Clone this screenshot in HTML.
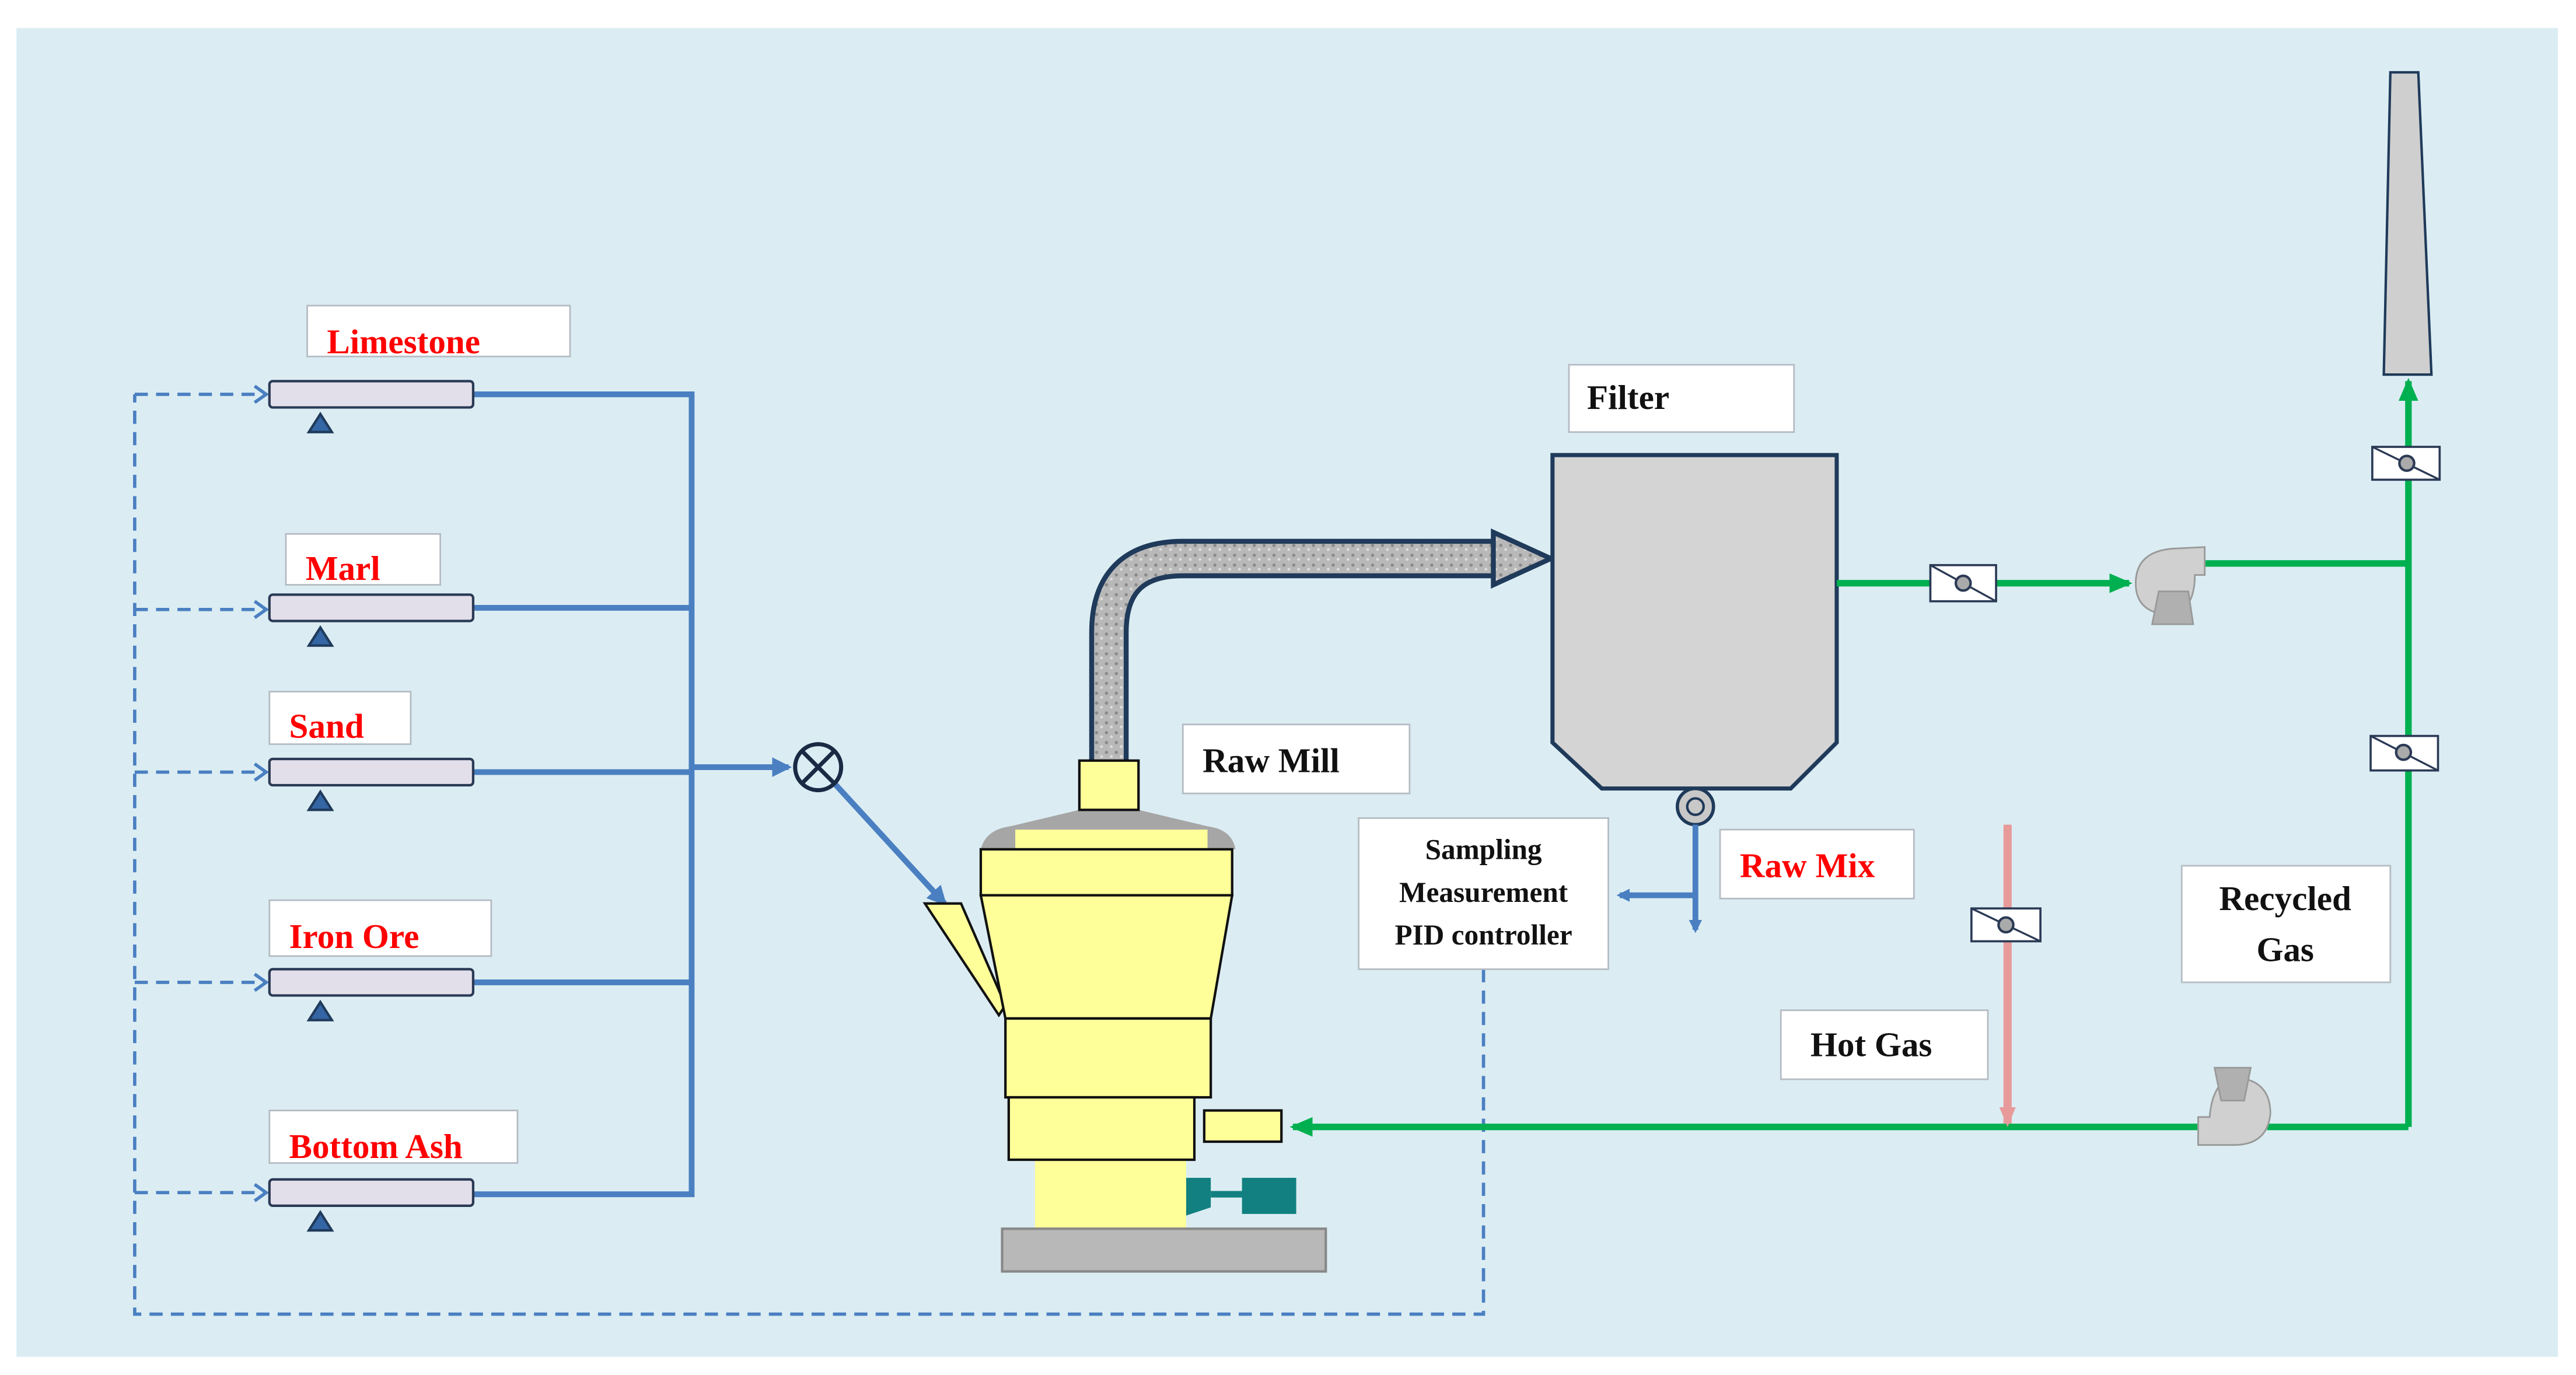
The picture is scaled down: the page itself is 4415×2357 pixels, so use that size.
<!DOCTYPE html>
<html><head><meta charset="utf-8"><style>
html,body{margin:0;padding:0;background:#fff}
svg{display:block}
text{font-family:"Liberation Serif",serif;font-weight:bold}
</style></head><body>
<svg width="4415" height="2357" viewBox="0 0 1568 837" xmlns="http://www.w3.org/2000/svg">
<defs>
<marker id="ab" markerWidth="8" markerHeight="8" refX="6" refY="4" orient="auto" markerUnits="userSpaceOnUse"><path d="M0,0 L8,4 L0,8 Z" fill="#4a7fc1"/></marker>
<marker id="abl" markerWidth="12" markerHeight="12" refX="10" refY="6" orient="auto" markerUnits="userSpaceOnUse"><path d="M0,0 L12,6 L0,12 Z" fill="#4a7fc1"/></marker>
<marker id="ad" markerWidth="10" markerHeight="12" refX="8" refY="6" orient="auto" markerUnits="userSpaceOnUse"><path d="M1,1 L8,6 L1,11" fill="none" stroke="#4a7fc1" stroke-width="2"/></marker>
<marker id="ag" markerWidth="14" markerHeight="12" refX="12" refY="6" orient="auto" markerUnits="userSpaceOnUse"><path d="M0,0 L14,6 L0,12 Z" fill="#00b050"/></marker>
<marker id="ap" markerWidth="12" markerHeight="10" refX="10" refY="5" orient="auto" markerUnits="userSpaceOnUse"><path d="M0,0 L12,5 L0,10 Z" fill="#e89a9a"/></marker>
<pattern id="spk" width="6" height="6" patternUnits="userSpaceOnUse"><rect width="6" height="6" fill="#b8b8b8"/><circle cx="1.5" cy="2" r="1" fill="#8a8a8a"/><circle cx="4.5" cy="4.5" r="0.9" fill="#dcdcdc"/></pattern>
</defs>
<rect x="10" y="17" width="1547" height="809" fill="#dbedf3"/>

<g stroke="#4a7fc1" stroke-width="2" stroke-dasharray="8,5" fill="none">
<path d="M903,590 V800 H82 V240"/>
<path d="M82,240 H162" marker-end="url(#ad)"/>
<path d="M82,371 H162" marker-end="url(#ad)"/>
<path d="M82,470 H162" marker-end="url(#ad)"/>
<path d="M82,598 H162" marker-end="url(#ad)"/>
<path d="M82,726 H162" marker-end="url(#ad)"/>
</g>

<g stroke="#4a7fc1" stroke-width="3.5" fill="none">
<path d="M288,240 H421 V727 H288"/>
<path d="M288,370 H421"/><path d="M288,470 H421"/><path d="M288,598 H421"/>
<path d="M421,467 H480" marker-end="url(#abl)"/>
<path d="M508,477 L575,550" marker-end="url(#abl)"/>
</g>
<g fill="#e2dfea" stroke="#2b3a55" stroke-width="1.5">
<rect x="164" y="232" width="124" height="16" rx="2"/>
<rect x="164" y="362" width="124" height="16" rx="2"/>
<rect x="164" y="462" width="124" height="16" rx="2"/>
<rect x="164" y="590" width="124" height="16" rx="2"/>
<rect x="164" y="718" width="124" height="16" rx="2"/>
</g>
<g fill="#3465a4" stroke="#1f3a5a" stroke-width="1.5">
<path d="M195,252 L202,263 L188,263Z"/><path d="M195,382 L202,393 L188,393Z"/>
<path d="M195,482 L202,493 L188,493Z"/><path d="M195,610 L202,621 L188,621Z"/>
<path d="M195,738 L202,749 L188,749Z"/>
</g>
<circle cx="498" cy="467" r="14" fill="#dbedf3" stroke="#1a2a44" stroke-width="2.5"/>
<path d="M488,457 L508,477 M508,457 L488,477" stroke="#1a2a44" stroke-width="2.5"/>

<g fill="#fff" stroke="#b5bcc4" stroke-width="1">
<rect x="187" y="186" width="160" height="31"/>
<rect x="174" y="325" width="94" height="31"/>
<rect x="164" y="421" width="86" height="32"/>
<rect x="164" y="548" width="135" height="34"/>
<rect x="164" y="676" width="151" height="32"/>
<rect x="955" y="222" width="137" height="41"/>
<rect x="720" y="441" width="138" height="42"/>
<rect x="827" y="498" width="152" height="92"/>
<rect x="1047" y="505" width="118" height="42"/>
<rect x="1084" y="615" width="126" height="42"/>
<rect x="1328" y="527" width="127" height="71"/>
</g>
<g font-size="21" fill="#f00">
<text x="199" y="215">Limestone</text>
<text x="186" y="353">Marl</text>
<text x="176" y="449">Sand</text>
<text x="176" y="577">Iron Ore</text>
<text x="176" y="705">Bottom Ash</text>
<text x="1059" y="534">Raw Mix</text>
</g>
<g font-size="21" fill="#111">
<text x="966" y="249">Filter</text>
<text x="732" y="470">Raw Mill</text>
<text x="1102" y="643">Hot  Gas</text>
<text x="1391" y="554" text-anchor="middle">Recycled</text>
<text x="1391" y="585" text-anchor="middle">Gas</text>
</g>
<g font-size="17.5" fill="#111" text-anchor="middle">
<text x="903" y="523">Sampling</text>
<text x="903" y="549">Measurement</text>
<text x="903" y="575">PID controller</text>
</g>

<path d="M675,465 V385 Q675,340 720,340 H912" fill="none" stroke="#1f3a5a" stroke-width="24"/>
<path d="M675,465 V385 Q675,340 720,340 H915" fill="none" stroke="url(#spk)" stroke-width="18"/>
<path d="M909,324 L944,340 L909,356 Z" fill="url(#spk)" stroke="#1f3a5a" stroke-width="3"/>

<g stroke="#111" stroke-width="1.5">
<path d="M563,550 L585,550 L612,612 L608,618 Z" fill="#ffff99"/>
<rect x="630" y="706" width="92" height="42" fill="#ffff99" stroke="none"/>
<rect x="610" y="748" width="197" height="26" fill="#b8b8b8" stroke="#888"/>
<path d="M597,517 Q600,505 615,503 L657,493 L693,493 L735,503 Q750,505 752,517 Z" fill="#a6a6a6" stroke="none"/>
<rect x="618" y="505" width="117" height="12" fill="#ffff99" stroke="none"/>
<rect x="657" y="463" width="36" height="30" fill="#ffff99"/>
<rect x="597" y="517" width="153" height="28" fill="#ffff99"/>
<path d="M597,545 L750,545 L737,620 L612,620 Z" fill="#ffff99"/>
<rect x="612" y="620" width="125" height="48" fill="#ffff99"/>
<rect x="614" y="668" width="113" height="38" fill="#ffff99"/>
<rect x="733" y="676" width="47" height="19" fill="#ffff99"/>
</g>
<g fill="#128080">
<path d="M722,717 L737,717 L737,735 L722,740 Z"/><rect x="737" y="725" width="20" height="4"/><rect x="756" y="717" width="33" height="22"/>
</g>

<path d="M945,277 H1118 V452 L1090,480 H975 L945,452 Z" fill="#d4d4d4" stroke="#1f3a5a" stroke-width="2.5"/>
<circle cx="1032" cy="491" r="11" fill="#c8c8c8" stroke="#1f3a5a" stroke-width="2"/>
<circle cx="1032" cy="491" r="5" fill="none" stroke="#1f3a5a" stroke-width="1.5"/>
<g stroke="#4a7fc1" stroke-width="3.5" fill="none">
<path d="M1032,502 V566" marker-end="url(#ab)"/>
<path d="M1032,545 H986" marker-end="url(#ab)"/>
</g>

<g stroke="#00b050" stroke-width="4" fill="none">
<path d="M1118,355 H1296" marker-end="url(#ag)"/>
<path d="M1342,343 H1466"/>
<path d="M1466,686 V232" marker-end="url(#ag)"/>
<path d="M1466,686 H1380"/>
<path d="M1338,686 H787" marker-end="url(#ag)"/>
</g>
<path d="M1222,502 V684" stroke="#e89a9a" stroke-width="5" marker-end="url(#ap)"/>
<path d="M1455,44 H1472 L1480,228 H1451 Z" fill="#cfcfcf" stroke="#1f3a5a" stroke-width="1.5"/>

<g fill="#d0d0d0" stroke="#999" stroke-width="1">
<path d="M1342,333 V350 H1336 Q1336,374 1318,374 Q1300,372 1300,355 Q1300,336 1322,334 Z"/>
<path d="M1314,360 H1332 L1335,380 H1310 Z" fill="#b0b0b0"/>
<path d="M1338,697 V680 H1345 Q1347,656 1362,656 Q1382,658 1382,678 Q1380,697 1360,697 Z"/>
<path d="M1348,650 H1370 L1366,670 H1352 Z" fill="#b0b0b0"/>
</g>

<g fill="#fff" stroke="#2b3a55" stroke-width="1.3">
<rect x="1175" y="344" width="40" height="22"/>
<rect x="1444" y="272" width="41" height="20"/>
<rect x="1443" y="448" width="41" height="21"/>
<rect x="1200" y="553" width="42" height="20"/>
</g>
<g stroke="#2b3a55" stroke-width="1.2">
<path d="M1175,344 L1215,366"/><path d="M1444,272 L1485,292"/><path d="M1443,448 L1484,469"/><path d="M1200,553 L1242,573"/>
</g>
<g fill="#aaa" stroke="#2b3a55" stroke-width="1.5">
<circle cx="1195" cy="355" r="4.5"/><circle cx="1465" cy="282" r="4.5"/><circle cx="1463" cy="458" r="4.5"/><circle cx="1221" cy="563" r="4.5"/>
</g>
</svg>
</body></html>
